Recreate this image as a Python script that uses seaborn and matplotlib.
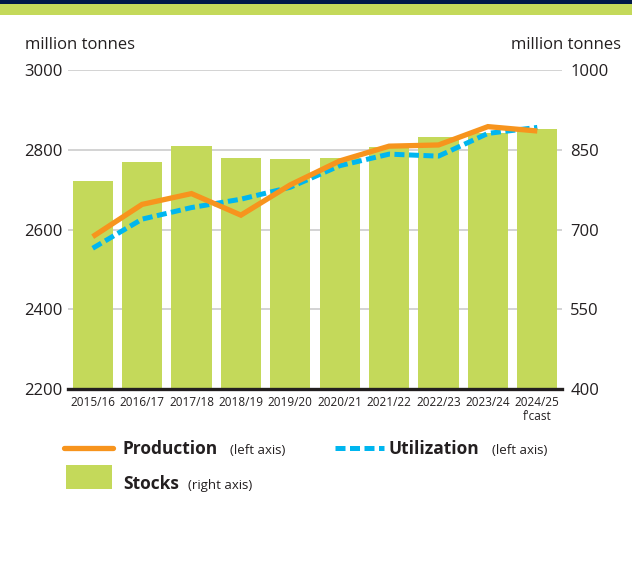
import matplotlib
matplotlib.use("Agg")
import matplotlib.pyplot as plt
import seaborn as sns
import pandas as pd
from matplotlib.lines import Line2D
from matplotlib.patches import Rectangle

seasons = ["2015/16", "2016/17", "2017/18", "2018/19", "2019/20",
           "2020/21", "2021/22", "2022/23", "2023/24", "2024/25"]
tick_labels = ["2015/16", "2016/17", "2017/18", "2018/19", "2019/20",
               "2020/21", "2021/22", "2022/23", "2023/24", "2024/25\nf'cast"]
production = [2582, 2663, 2690, 2636, 2712, 2772, 2809, 2812, 2858, 2847]
utilization = [2553, 2626, 2655, 2676, 2706, 2760, 2789, 2784, 2841, 2856]
stocks = [791, 827, 857, 834, 833, 834, 855, 874, 881, 889]
left_ticks = [2200, 2400, 2600, 2800, 3000]
right_ticks = [400, 550, 700, 850, 1000]

ORANGE = "#f7941d"
BLUE = "#00b6ef"
GREEN = "#c4d95a"
NAVY = "#001848"
TXT = "#231f20"
FONT = "Open Sans"

df = pd.DataFrame({"season": seasons, "production": production,
                   "utilization": utilization, "stocks": stocks})

sns.set_theme(style="white")
plt.rcParams["font.family"] = [FONT, "DejaVu Sans"]

W, H = 632, 576
fig = plt.figure(figsize=(W / 100, H / 100), dpi=100)
fig.patch.set_facecolor("white")

# top decorative bands
fig.patches.append(Rectangle((0, 1 - 4 / H), 1, 4 / H, transform=fig.transFigure,
                             facecolor=NAVY, edgecolor="none"))
fig.patches.append(Rectangle((0, 1 - 15 / H), 1, 11 / H, transform=fig.transFigure,
                             facecolor=GREEN, edgecolor="none"))

ax = fig.add_axes([68 / W, 1 - 389 / H, (562 - 68) / W, (389 - 70) / H])
ax2 = ax.twinx()

# bars (right axis)
sns.barplot(data=df, x="season", y="stocks", ax=ax2, color=GREEN,
            saturation=1, width=0.81, edgecolor="none", linewidth=0)
ax2.set_ylim(400, 1000)
ax2.set_yticks(right_ticks)
ax2.set_axisbelow(True)
ax2.yaxis.grid(True, color="#cccccc", linewidth=1.2)
ax2.xaxis.grid(False)
ax2.tick_params(axis="y", length=0, pad=6, labelsize=12, labelcolor=TXT)
ax2.set_ylabel("")

# lines (left axis)
xs = list(range(len(seasons)))
sns.lineplot(x=xs, y=production, ax=ax, color=ORANGE,
             linewidth=3.8, solid_capstyle="butt", solid_joinstyle="miter")
sns.lineplot(x=xs, y=utilization, ax=ax, color=BLUE, linewidth=3.6)
blue_line = ax.lines[-1]
blue_line.set_dashes([2.0, 0.9])
blue_line.set_dash_capstyle("butt")
blue_line.set_zorder(2)
ax.lines[0].set_zorder(3)

ax.set_zorder(ax2.get_zorder() + 1)
ax.patch.set_visible(False)
ax.set_ylim(2200, 3000)
ax.set_yticks(left_ticks)
ax.set_xlim(-0.5, len(seasons) - 0.5)
ax.set_xticks(xs)
ax.set_xticklabels(tick_labels, fontsize=8.5, color=TXT, linespacing=1.1)
ax.tick_params(axis="y", length=0, pad=4, labelsize=12, labelcolor=TXT)
ax.tick_params(axis="x", length=0, pad=5)
ax.grid(False)
ax.set_xlabel("")
ax.set_ylabel("")

for a in (ax, ax2):
    for s in a.spines.values():
        s.set_visible(False)
ax.spines["bottom"].set_visible(True)
ax.spines["bottom"].set_color("#231f20")
ax.spines["bottom"].set_linewidth(2.4)

# unit labels
fig.text(25 / W, 1 - 49 / H, "million tonnes", fontsize=12, color=TXT,
         ha="left", va="baseline")
fig.text(621 / W, 1 - 49 / H, "million tonnes", fontsize=12, color=TXT,
         ha="right", va="baseline")

# legend (manual)
ly = 1 - 448 / H
fig.add_artist(Line2D([64 / W, 113 / W], [ly, ly], transform=fig.transFigure,
                      color=ORANGE, linewidth=3.8, solid_capstyle="round"))
bl = Line2D([335 / W, 384 / W], [ly, ly], transform=fig.transFigure,
            color=BLUE, linewidth=3.6)
bl.set_dashes([2.0, 0.9])
bl.set_dash_capstyle("butt")
fig.add_artist(bl)
fig.patches.append(Rectangle((66 / W, 1 - 489 / H), 46 / W, 24 / H,
                             transform=fig.transFigure, facecolor=GREEN,
                             edgecolor="none"))
b1 = 1 - 454 / H
b2 = 1 - 489 / H
fig.text(123 / W, b1, "Production", fontsize=12.5, fontweight="bold", color=TXT,
         va="baseline")
fig.text(230 / W, b1, "(left axis)", fontsize=9.5, color=TXT, va="baseline")
fig.text(388 / W, b1, "Utilization", fontsize=12.5, fontweight="bold", color=TXT,
         va="baseline")
fig.text(492 / W, b1, "(left axis)", fontsize=9.5, color=TXT, va="baseline")
fig.text(123 / W, b2, "Stocks", fontsize=12.5, fontweight="bold", color=TXT,
         va="baseline")
fig.text(188 / W, b2, "(right axis)", fontsize=9.5, color=TXT, va="baseline")

fig.savefig("out.png", dpi=100, facecolor="white")
